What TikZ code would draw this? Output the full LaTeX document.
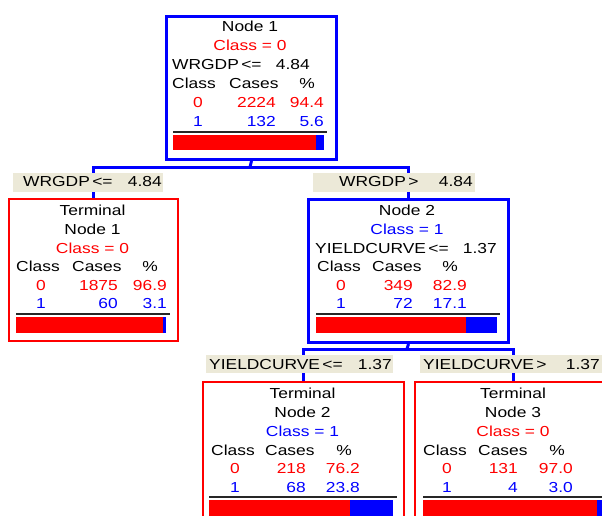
\documentclass[tikz,border=0pt]{standalone}
\usepackage{fontspec}
\setmainfont{Liberation Sans}[FakeStretch=1.2]
\definecolor{lbl}{RGB}{236,233,216}
\definecolor{cred}{RGB}{255,0,0}
\definecolor{cblue}{RGB}{0,0,255}
\tikzset{
  conn/.style={draw=cblue, line width=3pt},
  bluebox/.style={draw=cblue, line width=3pt, fill=white, rectangle, inner sep=0pt, anchor=north west},
  redbox/.style={draw=cred, line width=1.5pt, fill=white, rectangle, inner sep=0pt, anchor=north west},
  lblbox/.style={fill=lbl, rectangle, inner sep=0pt, anchor=north west},
  txt/.style={inner sep=0pt, font=\fontsize{14.5}{17}\selectfont},
  tc/.style={txt, anchor=base},
  tl/.style={txt, anchor=base west},
  tr/.style={txt, anchor=base east},
  sepline/.style={draw=black!85, line width=1.5pt},
}
\newcommand\tabhead[5]{%
  \node[tl] (#1h1) at (#2,#5) {Class};
  \node[tl] (#1h2) at (#3,#5) {Cases};
  \node[tc] (#1h3) at (#4,#5) {\%};}
\newcommand\tabrow[9]{%
  \node[tc, text=#2] (#1a) at (#4,#9) {#3};
  \node[tr, text=#2] (#1b) at (#6,#9) {#5};
  \node[tr, text=#2] (#1c) at (#8,#9) {#7};}
\newcommand\cbar[7]{%
  \draw[sepline] (#1,#3) -- (#2,#3);
  \fill[cred] (#1,#6) rectangle (#4,#7);
  \fill[cblue] (#4,#6) rectangle (#5,#7);}
\begin{document}
\begin{tikzpicture}[x=1pt, y=-1pt]
\useasboundingbox (0,0) rectangle (602,516);
\clip (0,0) rectangle (602,516);
\fill[white] (0,0) rectangle (602,516);

% boxes (created first for anchors, drawn on top later)
\path
  node[bluebox, minimum width=170pt, minimum height=143pt] (n1) at (165,15) {}
  node[redbox, minimum width=169pt, minimum height=142pt] (t1) at (8,198) {}
  node[bluebox, minimum width=200pt, minimum height=143pt] (n2) at (307,198) {}
  node[redbox, minimum width=201pt, minimum height=150pt] (t2) at (202,381) {}
  node[redbox, minimum width=198pt, minimum height=150pt] (t3) at (414,381) {};

% connectors
\coordinate (j1) at (250,167);
\coordinate (j2) at (407,349);
\draw[conn] (n1.south) -- (j1);
\draw[conn] (t1.north) |- (j1) -| (n2.north);
\draw[conn] (n2.south) -- (j2);
\draw[conn] (t2.north) |- (j2) -| (t3.north);

% redraw boxes on top of connectors
\node[bluebox, minimum width=170pt, minimum height=143pt] (n1b) at (165,15) {};
\node[redbox, minimum width=169pt, minimum height=142pt] (t1b) at (8,198) {};
\node[bluebox, minimum width=200pt, minimum height=143pt] (n2b) at (307,198) {};
\node[redbox, minimum width=201pt, minimum height=150pt] (t2b) at (202,381) {};
\node[redbox, minimum width=198pt, minimum height=150pt] (t3b) at (414,381) {};

% split labels
\node[lblbox, minimum width=150pt, minimum height=19pt] (l1) at (13,173) {};
\node[tl] (l1a) at (23,186) {WRGDP\,<=};
\node[tr] (l1b) at (162,186) {4.84};
\node[lblbox, minimum width=162pt, minimum height=19pt] (l2) at (313,173) {};
\node[tl] (l2a) at (339,186) {WRGDP\,>};
\node[tr] (l2b) at (473,186) {4.84};
\node[lblbox, minimum width=187pt, minimum height=18pt] (l3) at (206,355) {};
\node[tl] (l3a) at (209,369) {YIELDCURVE\,<=};
\node[tr] (l3b) at (392,369) {1.37};
\node[lblbox, minimum width=190pt, minimum height=18pt] (l4) at (420,355) {};
\node[tl] (l4a) at (423,369) {YIELDCURVE\,>};
\node[tr] (l4b) at (600,369) {1.37};

% Node 1
\node[tc] (n1t1) at (250,32) {Node 1};
\node[tc, text=cred] (n1t2) at (250,51) {Class = 0};
\node[tl] (n1t3) at (172,70) {WRGDP\,<=};
\node[tr] (n1t4) at (310,70) {4.84};
\tabhead{n1}{172}{229}{307}{89}
\tabrow{n1r0}{cred}{0}{198}{2224}{276}{94.4}{324}{108}
\tabrow{n1r1}{cblue}{1}{198}{132}{276}{5.6}{324}{127}
\cbar{173}{327}{132}{316}{324}{135}{150}

% Terminal Node 1
\node[tc] (t1t1) at (92.5,215) {Terminal};
\node[tc] (t1t2) at (92.5,234) {Node 1};
\node[tc, text=cred] (t1t3) at (92.5,253) {Class = 0};
\tabhead{t1}{16}{72}{150}{271}
\tabrow{t1r0}{cred}{0}{41}{1875}{118}{96.9}{167}{290}
\tabrow{t1r1}{cblue}{1}{41}{60}{118}{3.1}{167}{308}
\cbar{16}{170}{314}{163}{166}{317}{333}

% Node 2
\node[tc] (n2t1) at (407,215) {Node 2};
\node[tc, text=cblue] (n2t2) at (407,234) {Class = 1};
\node[tl] (n2t3) at (315,253) {YIELDCURVE\,<=};
\node[tr] (n2t4) at (497,253) {1.37};
\tabhead{n2}{317}{372}{450}{271}
\tabrow{n2r0}{cred}{0}{341}{349}{413}{82.9}{467}{290}
\tabrow{n2r1}{cblue}{1}{341}{72}{413}{17.1}{467}{308}
\cbar{316}{500}{314}{466}{497}{317}{333}

% Terminal Node 2
\node[tc] (t2t1) at (302.5,398) {Terminal};
\node[tc] (t2t2) at (302.5,417) {Node 2};
\node[tc, text=cblue] (t2t3) at (302.5,436) {Class = 1};
\tabhead{t2}{211}{265}{344}{455}
\tabrow{t2r0}{cred}{0}{235}{218}{306}{76.2}{360}{473}
\tabrow{t2r1}{cblue}{1}{235}{68}{306}{23.8}{360}{492}
\cbar{209}{397}{497}{350}{393}{500}{520}

% Terminal Node 3
\node[tc] (t3t1) at (513,398) {Terminal};
\node[tc] (t3t2) at (513,417) {Node 3};
\node[tc, text=cred] (t3t3) at (513,436) {Class = 0};
\tabhead{t3}{423}{478}{557}{455}
\tabrow{t3r0}{cred}{0}{447}{131}{518}{97.0}{573}{473}
\tabrow{t3r1}{cblue}{1}{447}{4}{518}{3.0}{573}{492}
\cbar{423}{610}{497}{597}{604}{500}{520}
\end{tikzpicture}
\end{document}
